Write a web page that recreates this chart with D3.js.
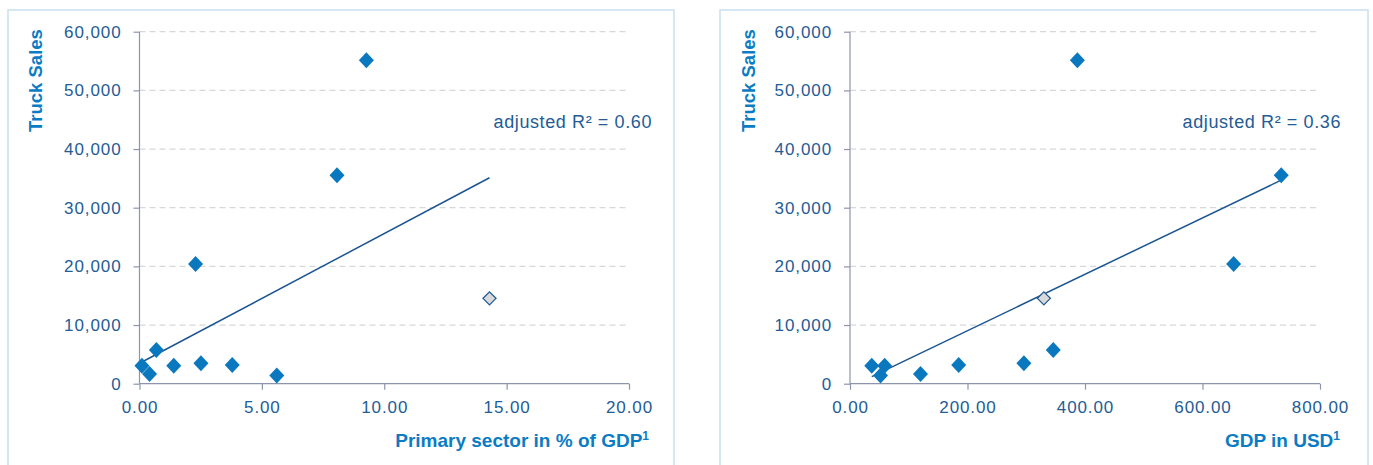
<!DOCTYPE html>
<html><head><meta charset="utf-8">
<script src="https://cdn.jsdelivr.net/npm/d3@7"></script>
<style>
html,body{margin:0;padding:0;background:#fff;}
svg{display:block;font-family:"Liberation Sans",Arial,sans-serif;}
</style></head>
<body>
<svg id="chart" width="1373" height="465"></svg>
<script>
// ---- data ----
const primaryShare = [9.27, 8.07, 2.29, 0.69, 2.51, 3.79, 0.10, 1.40, 0.41, 5.61, 14.30];
const gdpUSD       = [387, 734, 653, 346, 296, 185, 37, 59, 120, 52, 330];
const truckSales   = [55150, 35550, 20400, 5740, 3470, 3190, 3070, 3050, 1650, 1400, 14550];
const isOutlier    = [false, false, false, false, false, false, false, false, false, false, true];
const yTicks = [0, 10000, 20000, 30000, 40000, 50000, 60000];
const xTicksLeft = [0, 5, 10, 15, 20];
const xTicksRight = [0, 200, 400, 600, 800];
const trendLeftX = [0.1, 14.3], trendLeftY = [3700, 35100];
const trendRightX = [37, 734], trendRightY = [1200, 34700];
const panelsCfg = [
  {xs: primaryShare, xDomain: [0, 20], xTicks: xTicksLeft, tX: trendLeftX, tY: trendLeftY,
   xTitle: "Primary sector in % of GDP", r2: "adjusted R² = 0.60",
   box: [8, 10, 666], axX: 139.5, axX2: 629, ytitleX: 41.5, r2X: 652},
  {xs: gdpUSD, xDomain: [0, 800], xTicks: xTicksRight, tX: trendRightX, tY: trendRightY,
   xTitle: "GDP in USD", r2: "adjusted R² = 0.36",
   box: [720, 10, 648], axX: 850, axX2: 1320, ytitleX: 755, r2X: 1341}
];

const svg = d3.select("#chart");
const tickColor = "#245c96", titleColor = "#0b7cc4", axisColor = "#8c95ad";
const y = d3.scaleLinear().domain([0, 60000]).range([383.7, 31.7]);

panelsCfg.forEach(p => {
  const g = svg.append("g");
  g.append("rect").attr("x", p.box[0]).attr("y", p.box[1]).attr("width", p.box[2]).attr("height", 500)
    .attr("fill", "none").attr("stroke", "#c9e0f1").attr("stroke-width", 1.5);
  const x = d3.scaleLinear().domain(p.xDomain).range([p.axX, p.axX2]);

  // gridlines
  g.selectAll("line.grid").data(yTicks.filter(d => d > 0)).join("line")
    .attr("x1", p.axX).attr("x2", p.axX2).attr("y1", d => y(d)).attr("y2", d => y(d))
    .attr("stroke", "#d8d8d8").attr("stroke-width", 1.2).attr("stroke-dasharray", "6,4");

  // y axis
  const ya = g.append("g").attr("transform", `translate(${p.axX},0)`)
    .call(d3.axisLeft(y).tickValues(yTicks).tickFormat(d3.format(",")).tickSize(6).tickPadding(12));
  // x axis
  const xa = g.append("g").attr("transform", `translate(0,${y(0)})`)
    .call(d3.axisBottom(x).tickValues(p.xTicks).tickFormat(d3.format(".2f")).tickSize(6).tickPadding(11));
  [ya, xa].forEach(a => {
    a.select(".domain").attr("stroke", axisColor).attr("stroke-width", 1.2);
    a.selectAll(".tick line").attr("stroke", axisColor).attr("stroke-width", 1.2);
    a.selectAll(".tick text").attr("fill", tickColor).attr("font-size", 17).attr("letter-spacing", 0.9);
  });
  xa.select(".domain").attr("d", `M${p.axX},0H${p.axX2}`);
  ya.select(".domain").attr("d", `M0,${y(60000)}V${y(0)}`);

  // trend line
  g.append("line").attr("x1", x(p.tX[0])).attr("y1", y(p.tY[0])).attr("x2", x(p.tX[1])).attr("y2", y(p.tY[1]))
    .attr("stroke", "#1b5591").attr("stroke-width", 1.5);

  // points
  const pts = p.xs.map((v, i) => ({x: v, y: truckSales[i], o: isOutlier[i]}));
  g.selectAll("path.pt").data(pts).join("path")
    .attr("transform", d => `translate(${x(d.x)},${y(d.y)})`)
    .attr("d", d => d.o ? "M0,-6.5L6.5,0L0,6.5L-6.5,0Z" : "M0,-8L7.5,0L0,8L-7.5,0Z")
    .attr("fill", d => d.o ? "#d9d9d9" : "#0a78bf")
    .attr("stroke", d => d.o ? "#1f5a94" : "none").attr("stroke-width", 1.3);

  // titles
  g.append("text").attr("transform", `translate(${p.ytitleX},132) rotate(-90)`)
    .attr("fill", titleColor).attr("font-weight", "bold").attr("font-size", 18.5).text("Truck Sales");
  const xt = g.append("text").attr("x", p.axX2 + 20).attr("y", 446.5).attr("text-anchor", "end")
    .attr("fill", titleColor).attr("font-weight", "bold").attr("font-size", 19);
  xt.append("tspan").text(p.xTitle);
  xt.append("tspan").attr("font-size", 12).attr("dy", -7).text("1");
  g.append("text").attr("x", p.r2X).attr("y", 128).attr("text-anchor", "end")
    .attr("fill", tickColor).attr("font-size", 18).attr("letter-spacing", 0.6).text(p.r2);
});
</script>
</body></html>
